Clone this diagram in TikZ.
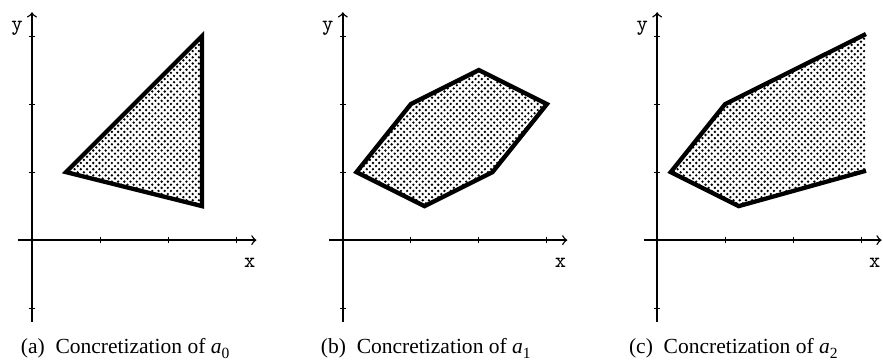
\documentclass[tikz,border=0pt]{standalone}
\usepackage{fontspec}
\setmainfont{Liberation Serif}
\usetikzlibrary{patterns}

% staggered dot fill
\pgfdeclarepatternformonly{stagdots}{\pgfpoint{-0.7pt}{-0.7pt}}{\pgfpoint{2pt}{2pt}}{\pgfpoint{2.6pt}{2.6pt}}{
    \pgfpathcircle{\pgfpoint{0pt}{0pt}}{0.55pt}
    \pgfpathcircle{\pgfpoint{1.3pt}{1.3pt}}{0.55pt}
    \pgfusepath{fill}}

\newcommand{\absval}[1]{\textit{a}\raisebox{-0.45ex}{\fontsize{6.5}{7}\selectfont #1}}

\begin{document}
\begin{tikzpicture}[scale=1, every node/.style={align=center},
    axis/.style={->, line width=0.6pt},
    tick/.style={line width=0.4pt},
    region/.style={line width=1.8pt, line join=miter, pattern=stagdots},
    axlabel/.style={font=\ttfamily\fontsize{9}{10}\selectfont, inner sep=0pt},
    caption/.style={font=\fontsize{9}{11}\selectfont}]
    \useasboundingbox (-0.47,-1.79) rectangle (12.51,3.53);

    % (a) triangle
    \begin{scope}
        % Axes
        \draw[axis] (-0.2,0) -- (3.3,0);
        \draw[axis] (0,-1.2) -- (0,3.35);
        \foreach \t in {1,2,3} \draw[tick] (\t,-0.045) -- (\t,0.045);
        \foreach \t in {-1,1,2,3} \draw[tick] (-0.045,\t) -- (0.045,\t);
        \node[axlabel] (xa) at (3.2,-0.33) {x};
        \node[axlabel] (ya) at (-0.22,3.12) {y};
        % Region
        \draw[region] (0.5,1) -- (2.5,3) -- (2.5,0.5) -- cycle;
        \node[caption] (capa) at (1.37,-1.59) {(a)\ \ Concretization of \absval{0}};
    \end{scope}

    % (b) hexagon
    \begin{scope}[xshift=4.57cm]
        % Axes
        \draw[axis] (-0.2,0) -- (3.3,0);
        \draw[axis] (0,-1.2) -- (0,3.35);
        \foreach \t in {1,2,3} \draw[tick] (\t,-0.045) -- (\t,0.045);
        \foreach \t in {-1,1,2,3} \draw[tick] (-0.045,\t) -- (0.045,\t);
        \node[axlabel] (xb) at (3.2,-0.33) {x};
        \node[axlabel] (yb) at (-0.22,3.12) {y};
        % Region
        \draw[region] (0.2,1) -- (1,2) -- (2,2.5) -- (3,2) -- (2.2,1) -- (1.2,0.5) -- cycle;
        \node[caption] (capb) at (1.22,-1.59) {(b)\ \ Concretization of \absval{1}};
    \end{scope}

    % (c) open region, cut at the right
    \begin{scope}[xshift=9.19cm]
        % Axes
        \draw[axis] (-0.2,0) -- (3.3,0);
        \draw[axis] (0,-1.2) -- (0,3.35);
        \foreach \t in {1,2,3} \draw[tick] (\t,-0.045) -- (\t,0.045);
        \foreach \t in {-1,1,2,3} \draw[tick] (-0.045,\t) -- (0.045,\t);
        \node[axlabel] (xc) at (3.2,-0.33) {x};
        \node[axlabel] (yc) at (-0.22,3.12) {y};
        % Region
        \fill[pattern=stagdots] (0.2,1) -- (1,2) -- (3.07,3.03) -- (3.07,1.02) -- (1.2,0.5) -- cycle;
        \draw[line width=1.8pt, line join=miter] (3.07,3.03) -- (1,2) -- (0.2,1) -- (1.2,0.5) -- (3.07,1.02);
        \node[caption] (capc) at (1.12,-1.59) {(c)\ \ Concretization of \absval{2}};
    \end{scope}
\end{tikzpicture}
\end{document}
